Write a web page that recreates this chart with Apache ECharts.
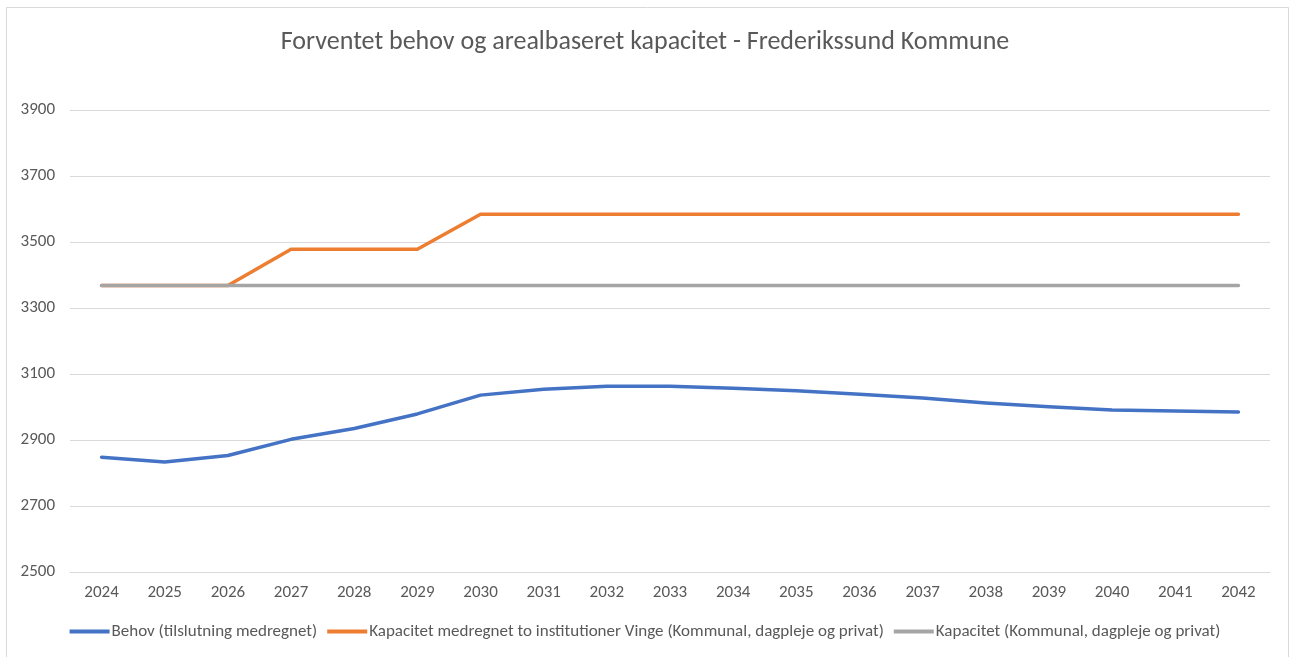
<!DOCTYPE html>
<html>
<head>
<meta charset="utf-8">
<script src="https://cdn.jsdelivr.net/npm/echarts@6/dist/echarts.min.js"></script>
<style>
html,body{margin:0;padding:0;background:#fff;}
#chart{width:1290px;height:657px;}
</style>
</head>
<body>
<div id="chart"></div>
<script>
const years = ['2024','2025','2026','2027','2028','2029','2030','2031','2032','2033','2034','2035','2036','2037','2038','2039','2040','2041','2042'];
const behov = [2848,2833,2853,2902,2935,2979,3036,3054,3063,3063,3057,3049,3039,3027,3012,3001,2991,2988,2985];
const kapacitetVinge = [3368,3368,3368,3478,3478,3478,3584,3584,3584,3584,3584,3584,3584,3584,3584,3584,3584,3584,3584];
const kapacitet = [3368,3368,3368,3368,3368,3368,3368,3368,3368,3368,3368,3368,3368,3368,3368,3368,3368,3368,3368];
const seriesNames = ['Behov (tilslutning medregnet)','Kapacitet medregnet to institutioner Vinge (Kommunal, dagpleje og privat)','Kapacitet (Kommunal, dagpleje og privat)'];
const titleText = 'Forventet behov og arealbaseret kapacitet - Frederikssund Kommune';

const font = 'Carlito, "Open Sans", "Noto Sans", sans-serif';
const txt = '#595959';
const chart = echarts.init(document.getElementById('chart'), null, {renderer:'canvas'});
const mk = (name, data, color) => ({
  name, type:'line', data, symbol:'none', smooth:false,
  lineStyle:{color, width:3.5, cap:'round', join:'round'},
  itemStyle:{color}
});
chart.setOption({
  animation:false,
  backgroundColor:'#ffffff',
  graphic:[{type:'rect', shape:{x:6.5,y:7.5,width:1282,height:660,r:0}, style:{fill:'none',stroke:'#d9d9d9',lineWidth:1}, silent:true}],
  title:{text:titleText, left:'center', top:24, textStyle:{fontFamily:font, fontSize:26, fontWeight:'normal', color:txt}},
  grid:{left:70, right:20, top:110, bottom:85, containLabel:false},
  legend:{bottom:12, left:'center', itemWidth:40, itemHeight:4, itemGap:10, icon:'rect',
    textStyle:{fontFamily:font, fontSize:17, color:txt, padding:[0,0,0,-3]}, data:seriesNames},
  xAxis:{type:'category', data:years, boundaryGap:true,
    axisLine:{show:true, lineStyle:{color:'#d9d9d9', width:1}}, axisTick:{show:false},
    axisLabel:{fontFamily:font, fontSize:17, color:txt, margin:12}},
  yAxis:{type:'value', min:2500, max:3900, interval:200,
    axisLine:{show:false}, axisTick:{show:false},
    splitLine:{lineStyle:{color:'#d9d9d9', width:1}},
    axisLabel:{fontFamily:font, fontSize:17, color:txt, margin:15, align:'right', formatter:(v)=>String(v)}},
  series:[mk(seriesNames[0], behov, '#4472C4'), mk(seriesNames[1], kapacitetVinge, '#ED7D31'), mk(seriesNames[2], kapacitet, '#A5A5A5')]
});
</script>
</body>
</html>
